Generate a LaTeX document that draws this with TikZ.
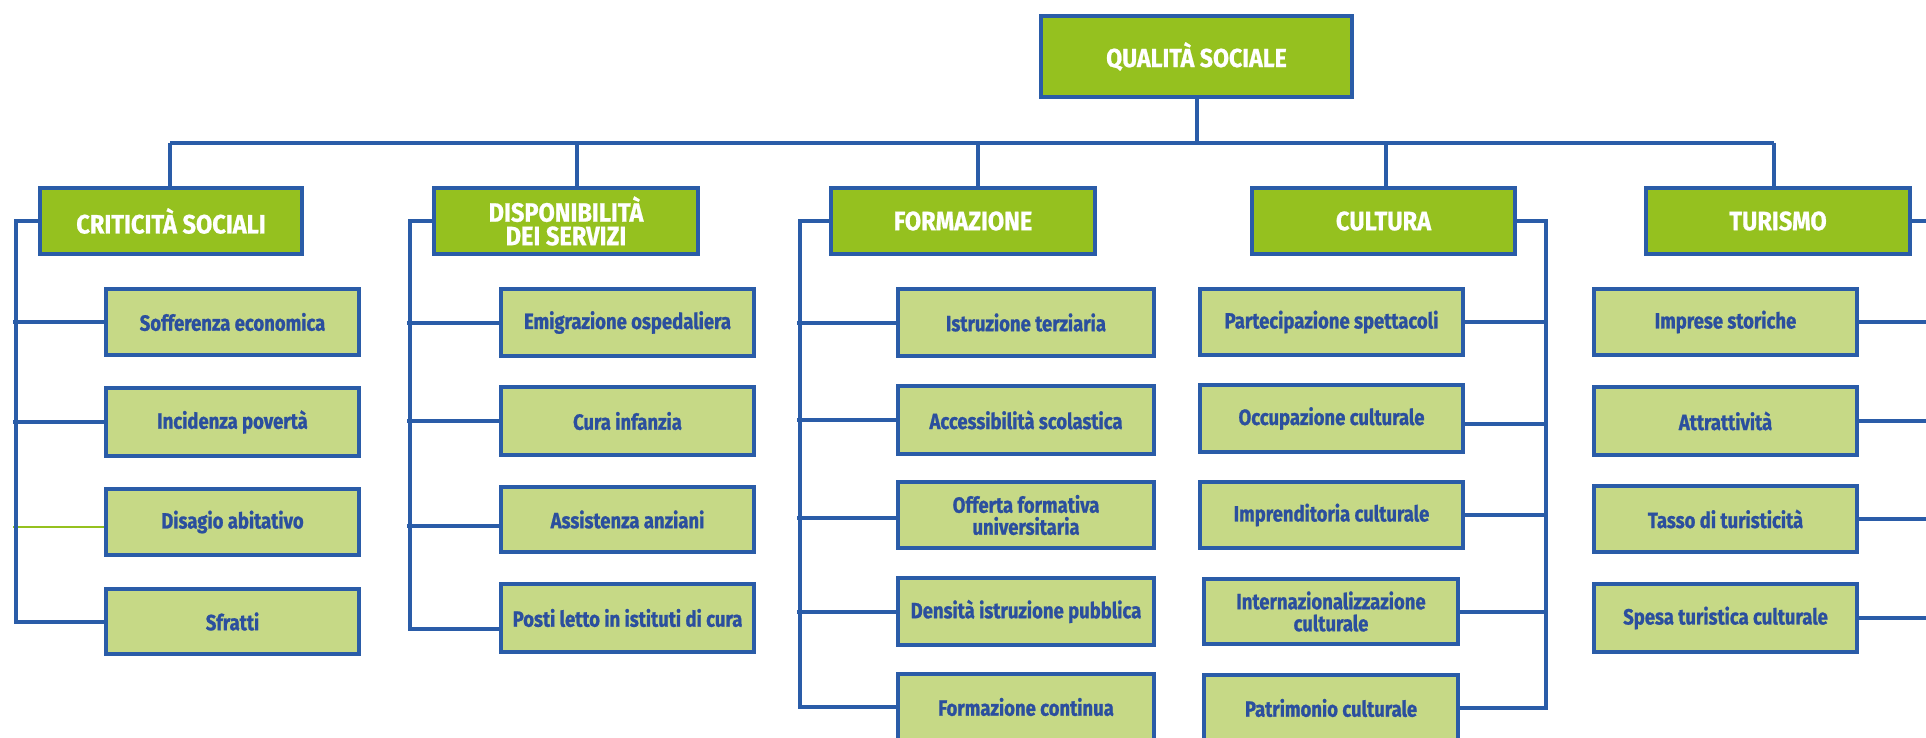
\documentclass[tikz,border=0pt]{standalone}
\usepackage{fontspec}
\setmainfont{Fira Sans}[FakeStretch=0.84, FakeBold=1]
\newfontfamily\catfont{Fira Sans}[FakeStretch=0.89, FakeBold=0.8]
\definecolor{dg}{HTML}{95C11F}
\definecolor{lg}{HTML}{C6D986}
\definecolor{bl}{HTML}{2A5CA8}
\definecolor{tb}{HTML}{2B4F9E}
\tikzset{
  boxbase/.style={draw=bl, line width=4pt, inner sep=0pt, align=center, font=\bfseries},
  rootbox/.style={boxbase, fill=dg, text=white, font=\catfont\bfseries\fontsize{26}{24}\selectfont},
  catbox/.style={boxbase, fill=dg, text=white, minimum height=66pt, font=\catfont\bfseries\fontsize{26.5}{23.5}\selectfont},
  itembox/.style={boxbase, fill=lg, text=tb, font=\bfseries\fontsize{22}{22}\selectfont},
  conn/.style={draw=bl, line width=4pt},
  gconn/.style={draw=dg, line width=2.5pt}
}
\begin{document}
\begin{tikzpicture}[x=1pt,y=-1pt]
\useasboundingbox (0,0) rectangle (1926,738);
\clip (0,0) rectangle (1926,738);
\fill[white] (0,0) rectangle (1926,738);

% root
\node[rootbox, minimum width=311pt, minimum height=81pt] (root) at (1196.5,56.5) {QUALITÀ SOCIALE};

% categories
\node[catbox, minimum width=262pt] (crit) at (171,221) {CRITICITÀ SOCIALI};
\node[catbox, minimum width=264pt] (disp) at (566,221) {DISPONIBILITÀ\\DEI SERVIZI};
\node[catbox, minimum width=264pt] (form) at (963,221) {FORMAZIONE};
\node[catbox, minimum width=263pt] (cult) at (1383.5,221) {CULTURA};
\node[catbox, minimum width=264pt] (tur) at (1778,221) {TURISMO};

% criticita children
\node[itembox, minimum width=253pt, minimum height=66pt] (soff) at (232.5,322) {Sofferenza economica};
\node[itembox, minimum width=253pt, minimum height=68pt] (inc) at (232.5,422) {Incidenza povertà};
\node[itembox, minimum width=253pt, minimum height=66pt] (dis) at (232.5,522) {Disagio abitativo};
\node[itembox, minimum width=253pt, minimum height=65pt] (sfr) at (232.5,621.5) {Sfratti};

% disponibilita children
\node[itembox, minimum width=253pt, minimum height=67pt] (emi) at (627.5,322.5) {Emigrazione ospedaliera};
\node[itembox, minimum width=253pt, minimum height=68pt] (cura) at (627.5,421) {Cura infanzia};
\node[itembox, minimum width=253pt, minimum height=65pt] (ass) at (627.5,519.5) {Assistenza anziani};
\node[itembox, minimum width=253pt, minimum height=68pt] (posti) at (627.5,618) {Posti letto in istituti di cura};

% formazione children
\node[itembox, minimum width=256pt, minimum height=67pt] (ist) at (1026,322.5) {Istruzione terziaria};
\node[itembox, minimum width=256pt, minimum height=68pt] (acc) at (1026,420) {Accessibilità scolastica};
\node[itembox, minimum width=256pt, minimum height=66pt] (off) at (1026,515) {Offerta formativa\\universitaria};
\node[itembox, minimum width=256pt, minimum height=67pt] (den) at (1026,611.5) {Densità istruzione pubblica};
\node[itembox, minimum width=256pt, minimum height=66pt] (fc) at (1026,707) {Formazione continua};

% cultura children
\node[itembox, minimum width=263pt, minimum height=66pt] (par) at (1331.5,322) {Partecipazione spettacoli};
\node[itembox, minimum width=263pt, minimum height=67pt] (occ) at (1331.5,418.5) {Occupazione culturale};
\node[itembox, minimum width=263pt, minimum height=66pt] (impr) at (1331.5,515) {Imprenditoria culturale};
\node[itembox, minimum width=254pt, minimum height=65pt] (int) at (1331,611.5) {Internazionalizzazione\\culturale};
\node[itembox, minimum width=254pt, minimum height=66pt] (pat) at (1331,708) {Patrimonio culturale};

% turismo children
\node[itembox, minimum width=263pt, minimum height=66pt] (ims) at (1725.5,322) {Imprese storiche};
\node[itembox, minimum width=263pt, minimum height=68pt] (att) at (1725.5,421) {Attrattività};
\node[itembox, minimum width=263pt, minimum height=66pt] (tas) at (1725.5,519) {Tasso di turisticità};
\node[itembox, minimum width=263pt, minimum height=68pt] (spe) at (1725.5,618) {Spesa turistica culturale};

% top bus
\coordinate (bC) at (170,143);
\coordinate (bD) at (577,143);
\coordinate (bF) at (978,143);
\coordinate (bK) at (1386,143);
\coordinate (bT) at (1774,143);
\draw[conn] (bC) -- (bT);
\draw[conn] (root.south) -- (root.south |- bC);
\draw[conn] (bC) -- (bC |- crit.north);
\draw[conn] (bD) -- (bD |- disp.north);
\draw[conn] (bF) -- (bF |- form.north);
\draw[conn] (bK) -- (bK |- cult.north);
\draw[conn] (bT) -- (bT |- tur.north);

% criticita
\coordinate (critX) at (16,0);
\coordinate (critS) at (12.5,0);
\coordinate (disC) at ([yshift=-5pt]dis.west);
\draw[gconn] (disC) -- (disC -| critS);
\draw[conn] (crit.west) -| (critX |- sfr.west) -- (sfr.west);
\draw[conn] (soff.west) -- (soff.west -| critS);
\draw[conn] (inc.west) -- (inc.west -| critS);

% disponibilita
\coordinate (dispX) at (410,0);
\coordinate (dispS) at (406.5,0);
\coordinate (assC) at ([yshift=-6.5pt]ass.west);
\coordinate (postiC) at ([yshift=-11pt]posti.west);
\draw[conn] (disp.west) -| (dispX |- postiC) -- (postiC);
\draw[conn] (emi.west) -- (emi.west -| dispS);
\draw[conn] (cura.west) -- (cura.west -| dispS);
\draw[conn] (assC) -- (assC -| dispS);

% formazione
\coordinate (formX) at (800,0);
\coordinate (formS) at (796.5,0);
\coordinate (offC) at ([yshift=-3pt]off.west);
\draw[conn] (form.west) -| (formX |- fc.west) -- (fc.west);
\draw[conn] (ist.west) -- (ist.west -| formS);
\draw[conn] (acc.west) -- (acc.west -| formS);
\draw[conn] (offC) -- (offC -| formS);
\draw[conn] (den.west) -- (den.west -| formS);

% cultura
\coordinate (cultX) at (1546,0);
\coordinate (occC) at ([yshift=-5.5pt]occ.east);
\draw[conn] (cult.east) -| (cultX |- pat.east) -- (pat.east);
\draw[conn] (par.east) -- (par.east -| cultX);
\draw[conn] (occC) -- (occC -| cultX);
\draw[conn] (impr.east) -- (impr.east -| cultX);
\draw[conn] (int.east) -- (int.east -| cultX);

% turismo
\coordinate (turX) at (1940,0);
\draw[conn] (tur.east) -- (tur.east -| turX);
\draw[conn] (ims.east) -- (ims.east -| turX);
\draw[conn] (att.east) -- (att.east -| turX);
\draw[conn] (tas.east) -- (tas.east -| turX);
\draw[conn] (spe.east) -- (spe.east -| turX);
\end{tikzpicture}
\end{document}
